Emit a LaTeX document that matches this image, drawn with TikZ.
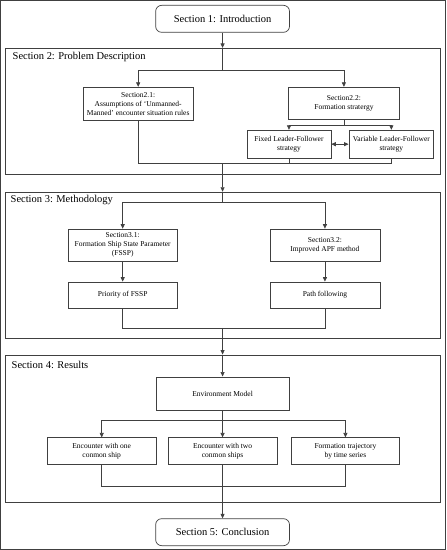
\documentclass[tikz,border=0pt]{standalone}
\usepackage{fontspec}
\setmainfont{Liberation Serif}
\usetikzlibrary{arrows.meta}
\begin{document}
\begin{tikzpicture}[x=1pt,y=-1pt,
  every path/.style={draw=black!75,line width=0.7pt},
  arr/.style={-{Triangle[length=4.5pt,width=4pt]}},
  darr/.style={{Triangle[length=4.5pt,width=4pt]}-{Triangle[length=4.5pt,width=4pt]}},
  box/.style={draw=black!75,line width=0.7pt,rectangle,inner sep=1pt,align=center,
    font=\fontsize{7.5}{9}\selectfont},
  secbox/.style={draw=black!75,line width=0.7pt,rounded corners=6pt,minimum width=134pt,minimum height=27pt,
    font=\fontsize{10.5}{12}\selectfont},
  frame/.style={draw=black!75,line width=0.7pt,minimum width=436pt},
  ftitle/.style={anchor=west,inner sep=0pt,font=\fontsize{10.5}{12}\selectfont}]
\useasboundingbox (0,0) rectangle (446,550);
% frames
\node[frame,minimum height=126pt] (f2) at (223,111) {};
\node[frame,minimum height=146pt] (f3) at (223,265) {};
\node[frame,minimum height=148pt] (f4) at (223,429) {};
\node[ftitle] (t2) at (12,57) {Section 2: Problem Description};
\node[ftitle] (t3) at (10,200) {Section 3: Methodology};
\node[ftitle] (t4) at (11,365) {Section 4: Results};
% section boxes
\node[secbox] (sec1) at (222.5,18.5) {Section 1: Introduction};
\node[secbox] (sec5) at (222.5,532.5) {Section 5: Conclusion};
% section 2
\node[box,minimum width=110pt,minimum height=33pt] (b21) at (138,103.5) {Section2.1:\\Assumptions of ‘Unmanned-\\Manned’ encounter situation rules};
\node[box,minimum width=112pt,minimum height=32pt] (b22) at (344,103) {Section2.2:\\Formation stratergy};
\node[box,minimum width=84pt,minimum height=28pt] (fix) at (289,144) {Fixed Leader-Follower\\strategy};
\node[box,minimum width=85pt,minimum height=28pt] (var) at (391.5,144) {Variable Leader-Follower\\strategy};
% section 3
\node[box,minimum width=109pt,minimum height=32pt] (b31) at (122.5,245) {Section3.1:\\Formation Ship State Parameter\\(FSSP)};
\node[box,minimum width=110pt,minimum height=32pt] (b32) at (325,245) {Section3.2:\\Improved APF method};
\node[box,minimum width=109pt,minimum height=26pt] (pri) at (122.5,295) {Priority of FSSP};
\node[box,minimum width=110pt,minimum height=26pt] (pth) at (325,295) {Path following};
% section 4
\node[box,minimum width=133pt,minimum height=34pt] (env) at (222.5,394) {Environment Model};
\node[box,minimum width=109pt,minimum height=27pt] (enc1) at (101.5,451.5) {Encounter with one\\conmon ship};
\node[box,minimum width=109pt,minimum height=27pt] (enc2) at (222.5,451.5) {Encounter with two\\conmon ships};
\node[box,minimum width=109pt,minimum height=27pt] (form) at (345.5,451.5) {Formation trajectory\\by time series};
% coordinates
\coordinate (s2) at (222.5,70);
\coordinate (s22) at (344,125);
\coordinate (m2) at (222.5,163);
\coordinate (s3) at (222.5,202);
\coordinate (m3) at (222.5,328);
\coordinate (s4) at (222.5,421);
\coordinate (m4) at (222.5,487);
% connectors section 1 -> 2
\draw[arr] (sec1.south) -- (sec1.south |- f2.north);
\draw (sec1.south |- f2.north) -- (s2);
\draw[arr] (s2) -| (b21.north);
\draw[arr] (s2) -| (b22.north);
\draw (b22.south) -- (s22);
\draw[arr] (s22) -| (fix.north);
\draw[arr] (s22) -| (var.north);
\draw[darr] (fix.east) -- (var.west);
\draw (b21.south) |- (m2) -| (var.south);
\draw (fix.south) -- (fix.south |- m2);
% 2 -> 3
\draw[arr] (m2) -- (m2 |- f3.north);
\draw (m2 |- f3.north) -- (s3);
\draw[arr] (s3) -| (b31.north);
\draw[arr] (s3) -| (b32.north);
\draw[arr] (b31.south) -- (pri.north);
\draw[arr] (b32.south) -- (pth.north);
\draw (pri.south) |- (m3) -| (pth.south);
% 3 -> 4
\draw[arr] (m3) -- (m3 |- f4.north);
\draw[arr] (m3 |- f4.north) -- (env.north);
\draw (env.south) -- (s4);
\draw[arr] (s4) -| (enc1.north);
\draw[arr] (s4) -- (enc2.north);
\draw[arr] (s4) -| (form.north);
\draw (enc1.south) |- (m4) -| (form.south);
\draw[arr] (enc2.south) -- (sec5.north);
\end{tikzpicture}
\end{document}
